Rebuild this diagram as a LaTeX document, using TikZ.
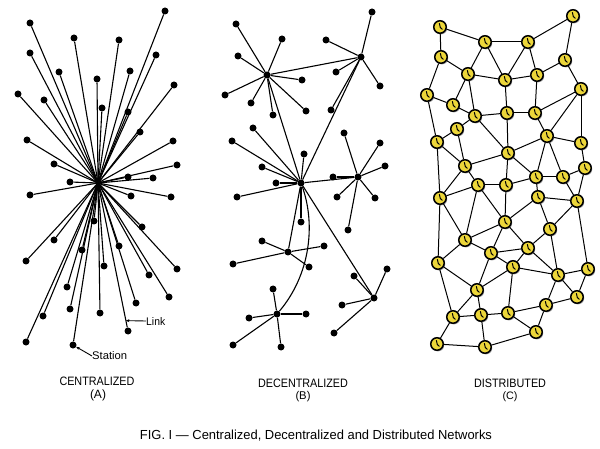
\documentclass[tikz,border=0pt]{standalone}
\usepackage{fontspec}
\setmainfont{Liberation Sans}
\usetikzlibrary{calc,arrows.meta,shadows}
\pgfdeclarelayer{bg}
\pgfsetlayers{bg,main}
\definecolor{clockyellow}{RGB}{236,214,58}
\begin{document}
\begin{tikzpicture}[x=1pt,y=-1pt,
  dot/.style={circle,fill=black,inner sep=0pt,minimum size=7pt},
  hubdot/.style={circle,fill=black,inner sep=0pt,minimum size=5pt},
  link/.style={line width=1.1pt,black},
  cedge/.style={line width=1pt,black},
  station/.style={circle,draw=black,line width=1.5pt,fill=clockyellow,inner sep=0pt,minimum size=12.5pt,
    drop shadow={shadow xshift=1pt,shadow yshift=-1.2pt,opacity=0.35,fill=black},
    path picture={\draw[line width=1pt,line cap=round]
      ([xshift=-0.6pt,yshift=3.5pt]path picture bounding box.center) --
      ([xshift=0.3pt,yshift=-0.5pt]path picture bounding box.center) --
      ([xshift=2.2pt,yshift=-2.2pt]path picture bounding box.center);}},
  lbl/.style={inner sep=0pt,text=black},
  pointer/.style={line width=0.9pt,-{Stealth[length=3.5pt,width=3pt]}}
]
\begin{pgfonlayer}{bg}
\fill[white] (0,0) rectangle (600,449);
\end{pgfonlayer}
\useasboundingbox (0,0) rectangle (600,449);

% ---------- (A) centralized ----------
\node[hubdot] (a0) at (98,183) {};
\foreach \n/\x/\y in {1/165/11, 2/30/23, 3/74/38, 4/119/40, 5/30/53, 6/156/55,
  7/59/72, 8/130/71, 9/97/79, 10/18/94, 11/174/85, 12/44/100, 13/102/108,
  14/128/112, 15/140/132, 16/27/140, 17/173/141, 18/54/164, 19/177/165,
  20/128/177, 21/153/178, 22/70/182, 23/30/195, 24/131/196, 25/171/197,
  26/94/221, 27/142/227, 28/54/240, 29/82/250, 30/119/246, 31/26/261,
  32/104/266, 33/177/269, 34/149/275, 35/67/287, 36/169/297, 37/136/303,
  38/70/309, 39/100/313, 40/43/316, 41/128/331, 42/26/342, 43/73/345}
  \node[dot] (a\n) at (\x,\y) {};
\begin{pgfonlayer}{bg}
\foreach \n in {1,...,43} \draw[link] (a0.center) -- (a\n);
\end{pgfonlayer}
\coordinate (linkpt) at ($(a0)!0.93!(a41)$);
\node[lbl,anchor=west] (linklbl) at (146,321) {\resizebox{19pt}{8pt}{Link}};
\node[lbl,anchor=west] (stationlbl) at (92,356) {\resizebox{35pt}{8pt}{Station}};
\draw[pointer] (linklbl.west) -- (linkpt);
\draw[pointer] (stationlbl.west) -- (a43);

% ---------- (B) decentralized ----------
\foreach \n/\x/\y in {1/267/75, 2/361/57, 3/301/183, 4/358/177, 5/288/252, 6/277/314, 7/374/298}
  \node[dot] (bh\n) at (\x,\y) {};
\def\bleaves{1/1/236/24, 1/2/282/39, 1/3/238/56, 1/4/302/80, 1/5/225/95, 1/6/251/103, 1/7/273/115, 1/8/306/111,
  2/1/372/12, 2/2/326/40, 2/3/336/72, 2/4/380/86, 2/5/331/110,
  3/1/253/128, 3/2/232/141, 3/3/304/154, 3/4/262/167, 3/5/276/183, 3/6/237/197, 3/7/301/222,
  4/1/344/133, 4/2/380/143, 4/3/385/166, 4/4/333/177, 4/5/337/197, 4/6/375/198, 4/7/348/230,
  5/1/262/241, 5/2/324/246, 5/3/233/264, 5/4/309/267,
  6/1/273/289, 6/2/249/318, 6/3/306/314, 6/4/233/345, 6/5/281/347,
  7/1/354/276, 7/2/387/269, 7/3/342/305, 7/4/334/333}
\foreach \h/\k/\x/\y in \bleaves \node[dot] (b\h-\k) at (\x,\y) {};
\begin{pgfonlayer}{bg}
\foreach \h/\k/\x/\y in \bleaves \draw[link] (bh\h) -- (b\h-\k);
\foreach \i/\j in {1/2, 1/3, 2/3, 3/4, 3/5, 3/7} \draw[link] (bh\i) -- (bh\j);
\draw[link] (bh3) .. controls (316,225) and (310,275) .. (bh6);
\end{pgfonlayer}

% ---------- (C) distributed ----------
\foreach \n/\x/\y in {1/440/27, 2/485/42, 3/528/42, 4/573/16, 5/441/57, 6/468/74,
  7/505/80, 8/537/75, 9/565/60, 10/427/95, 11/453/105, 12/475/116, 13/507/113,
  14/535/113, 15/581/89, 16/457/129, 17/437/142, 18/547/136, 19/581/143,
  20/508/153, 21/465/166, 22/536/177, 23/563/177, 24/585/168, 25/478/185,
  26/506/185, 27/440/198, 28/538/197, 29/577/201, 30/505/222, 31/550/229,
  32/465/240, 33/491/253, 34/528/248, 35/438/263, 36/513/267, 37/558/275,
  38/588/269, 39/477/290, 40/577/297, 41/546/305, 42/453/317, 43/481/315,
  44/508/313, 45/536/332, 46/437/344, 47/485/347}
  \node[station] (c\n) at (\x,\y) {};
\begin{pgfonlayer}{bg}
\foreach \i/\j in {1/2, 1/5, 2/3, 3/4, 2/6, 2/7, 3/7, 3/8, 4/9, 8/9, 9/15, 5/6, 5/10,
  6/7, 7/8, 6/11, 6/12, 7/13, 8/14, 15/14, 15/18, 15/19, 10/11, 10/17, 11/12,
  12/16, 16/17, 12/13, 13/14, 12/20, 13/20, 14/18, 16/21, 17/21, 17/27, 20/18,
  20/21, 18/19, 18/22, 18/23, 19/24, 22/23, 23/24, 20/26, 20/22, 21/25, 21/27,
  27/25, 25/26, 26/22, 22/28, 23/29, 24/29, 25/30, 26/30, 28/30, 28/29, 28/31,
  29/31, 29/38, 27/32, 25/32, 27/35, 30/32, 30/33, 30/34, 31/34, 31/37, 32/33,
  32/35, 33/34, 33/36, 33/39, 34/36, 34/37, 35/39, 35/42, 36/37, 36/39, 36/44,
  37/38, 37/40, 37/41, 38/40, 40/41, 39/42, 39/43, 42/43, 43/44, 44/41, 44/45,
  41/45, 42/46, 43/47, 46/47, 47/45}
  \draw[cedge] (c\i) -- (c\j);
\end{pgfonlayer}

% ---------- captions ----------
\node[lbl] (capA) at (97,381) {\resizebox{75pt}{8.5pt}{CENTRALIZED}};
\node[lbl] (capAl) at (98,395) {\resizebox{16pt}{!}{(A)}};
\node[lbl] (capB) at (303,383) {\resizebox{90pt}{8.5pt}{DECENTRALIZED}};
\node[lbl] (capBl) at (303,397) {\resizebox{15pt}{!}{(B)}};
\node[lbl] (capC) at (510,383) {\resizebox{72pt}{8.5pt}{DISTRIBUTED}};
\node[lbl] (capCl) at (510,397) {\resizebox{15pt}{!}{(C)}};
\node[lbl] (fig) at (316,436) {\resizebox{352pt}{9.5pt}{FIG. I — Centralized, Decentralized and Distributed Networks}};
\end{tikzpicture}
\end{document}
